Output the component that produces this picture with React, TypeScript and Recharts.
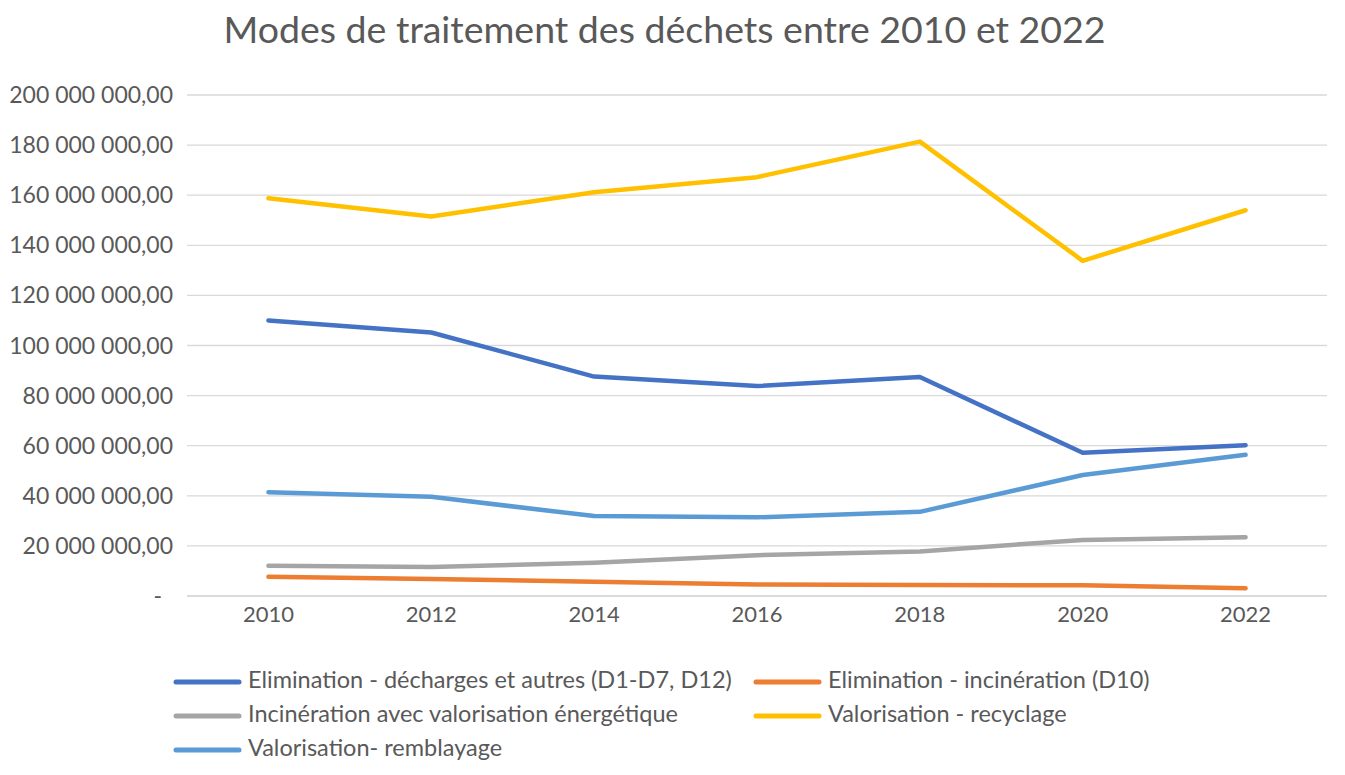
import { CartesianGrid, Line, LineChart, XAxis, YAxis } from "recharts";

// valeurs en millions de tonnes
const YEARS = ["2010", "2012", "2014", "2016", "2018", "2020", "2022"];
const DECHARGES = [110.0, 105.2, 87.6, 83.8, 87.4, 57.2, 60.2];
const INCINERATION = [7.7, 6.8, 5.7, 4.6, 4.4, 4.3, 3.1];
const INCI_ENERGIE = [12.1, 11.6, 13.3, 16.3, 17.8, 22.4, 23.5];
const RECYCLAGE = [158.8, 151.5, 161.2, 167.2, 181.4, 133.8, 154.0];
const REMBLAYAGE = [41.4, 39.6, 31.9, 31.4, 33.6, 48.3, 56.4];
const Y_TICKS = [0, 20, 40, 60, 80, 100, 120, 140, 160, 180, 200];

const SERIES = [
  { key: "decharges", label: "Elimination - décharges et autres (D1-D7, D12)", color: "#4472C4", values: DECHARGES },
  { key: "incineration", label: "Elimination - incinération (D10)", color: "#ED7D31", values: INCINERATION },
  { key: "energie", label: "Incinération avec valorisation énergétique", color: "#A5A5A5", values: INCI_ENERGIE },
  { key: "recyclage", label: "Valorisation - recyclage", color: "#FFC000", values: RECYCLAGE },
  { key: "remblayage", label: "Valorisation- remblayage", color: "#5B9BD5", values: REMBLAYAGE },
];

const rows = YEARS.map((year, i) => {
  const row: Record<string, string | number> = { year };
  SERIES.forEach((s) => {
    row[s.key] = s.values[i] * 1_000_000;
  });
  return row;
});

const TEXT = "#595959";
const GRID = "#D9D9D9";

function fmt(v: number) {
  const s = Math.round(v).toString().replace(/\B(?=(\d{3})+(?!\d))/g, " ");
  return `${s},00`;
}

function YTick(props: any) {
  const { x, y, payload } = props;
  const v = payload.value as number;
  return (
    <text x={v === 0 ? x - 11 : x} y={y} dy={8} textAnchor="end" fill={TEXT} fontSize={23}>
      {v === 0 ? "-" : fmt(v)}
    </text>
  );
}

// légende sur 2 colonnes, comme dans Excel
const LEGEND_POS = [
  { x: 176, y: 682 },
  { x: 756, y: 682 },
  { x: 176, y: 716 },
  { x: 756, y: 716 },
  { x: 176, y: 750 },
];

export default function App() {
  return (
    <div
      style={{
        position: "absolute",
        left: 0,
        top: 0,
        width: 1345,
        height: 775,
        background: "#fff",
        fontFamily: "Lato, 'Open Sans', sans-serif",
      }}
    >
      <LineChart
        width={1345}
        height={775}
        data={rows}
        margin={{ top: 95, right: 18, left: 0, bottom: 149 }}
      >
        <CartesianGrid vertical={false} stroke={GRID} strokeWidth={1.3} />
        <XAxis
          dataKey="year"
          scale="band"
          axisLine={{ stroke: GRID, strokeWidth: 1.5 }}
          tickLine={false}
          tickMargin={4}
          tick={{ fill: TEXT, fontSize: 22 }}
          interval={0}
        />
        <YAxis
          width={187}
          domain={[0, 200_000_000]}
          ticks={Y_TICKS.map((t) => t * 1_000_000)}
          axisLine={false}
          tickLine={false}
          tickMargin={8}
          tick={<YTick />}
          interval={0}
        />
        {SERIES.map((s) => (
          <Line
            key={s.key}
            dataKey={s.key}
            name={s.label}
            type="linear"
            stroke={s.color}
            strokeWidth={4.5}
            strokeLinecap="round"
            strokeLinejoin="round"
            dot={false}
            activeDot={false}
            isAnimationActive={false}
          />
        ))}
      </LineChart>

      <svg
        width={1345}
        height={775}
        style={{ position: "absolute", left: 0, top: 0, pointerEvents: "none" }}
      >
        <text x={664.5} y={43} textAnchor="middle" fill={TEXT} fontSize={37.5}>
          Modes de traitement des déchets entre 2010 et 2022
        </text>
        {SERIES.map((s, i) => {
          const p = LEGEND_POS[i];
          return (
            <g key={s.key}>
              <line
                x1={p.x}
                x2={p.x + 63}
                y1={p.y}
                y2={p.y}
                stroke={s.color}
                strokeWidth={5}
                strokeLinecap="round"
              />
              <text x={p.x + 72} y={p.y + 6} fill={TEXT} fontSize={23.5}>
                {s.label}
              </text>
            </g>
          );
        })}
      </svg>
    </div>
  );
}
